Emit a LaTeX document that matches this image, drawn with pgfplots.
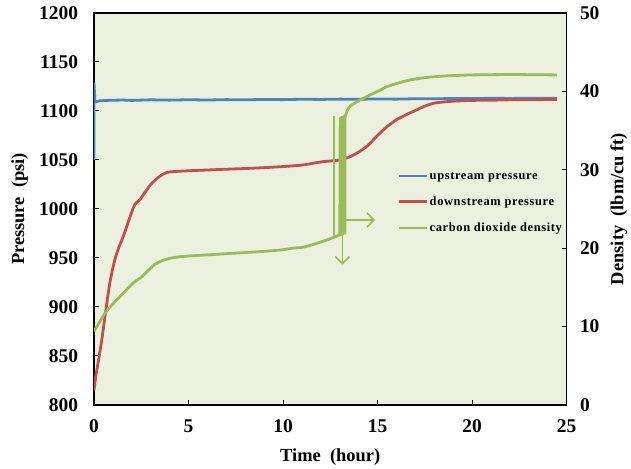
\documentclass[border=0pt]{standalone}
\usepackage{fontspec}
\setmainfont{Liberation Serif}
\newfontfamily\legfont[LetterSpace=5]{Liberation Serif}
\usepackage{pgfplots}
\pgfplotsset{compat=1.18}
\usetikzlibrary{arrows.meta}
\definecolor{bgc}{HTML}{EBF1DE}
\definecolor{upblue}{HTML}{4F81BD}
\definecolor{downred}{HTML}{C0504D}
\definecolor{co2green}{HTML}{9BBB59}

\pgfplotsset{
  base/.style={
    scale only axis, width=472.5bp, height=392bp,
    at={(0,0)}, anchor=south west,
    xmin=0, xmax=25,
    tick align=inside, major tick length=5bp,
    tick style={black, line width=1bp},
    axis line style={black, line width=1.3bp},
    tick label style={font=\fontsize{19.5}{22}\selectfont\bfseries},
    /pgf/number format/assume math mode=true,
    /pgf/number format/1000 sep={},
    label style={font=\fontsize{18.5}{22}\selectfont\bfseries},
  },
}

\begin{document}
\begin{tikzpicture}
% pressure axis
\begin{axis}[base,
  axis background/.style={fill=bgc},
  xtick={0,5,...,25}, xtick pos=bottom,
  xticklabel style={yshift=-11.5bp},
  ymin=800, ymax=1200, ytick={800,850,...,1200}, ytick pos=left,
  yticklabel style={xshift=-12.5bp},
  xlabel={Time~~(hour)},
  xlabel style={at={(axis description cs:0.5,-0.133)}, anchor=center},
  ylabel={Pressure~~(psi)},
  ylabel style={at={(axis description cs:-0.157,0.5)}, anchor=center},
]
% upstream pressure
\addplot[upblue, line width=2.8bp] coordinates {
 (0,1050) (0,1129) (0.05,1109) (0.3,1110.4) (0.8,1110.9) (1.5,1111.2)
 (2,1110.8) (3,1111.4) (4,1111.1) (5,1111.5) (6,1111.2) (7,1111.6)
 (8,1111.4) (9,1111.8) (10,1111.6) (11,1112) (12,1111.8) (13,1112.1)
 (14,1112) (15,1112.3) (16,1112.1) (17,1112.5) (18,1112.4) (19,1112.8)
 (20,1112.6) (21,1113) (22,1112.8) (23,1113.1) (24.5,1113)
};
% downstream pressure
\addplot[downred, line width=2.8bp, smooth, tension=0.4] coordinates {
 (0,815) (0.1,830) (0.2,841) (0.3,853) (0.41,866) (0.6,893) (0.85,926)
 (1.1,948) (1.3,960) (1.55,972) (1.8,986) (2,997) (2.17,1005)
 (2.3,1007.5) (2.45,1010) (2.7,1017) (3,1025) (3.3,1030.5) (3.6,1035)
 (3.9,1037.5) (4.3,1038.3) (5,1039) (6,1039.8) (7,1040.6) (8,1041.3)
 (9,1042.2) (10,1043.3) (11,1044.8) (12,1048) (12.5,1049) (13,1050)
 (13.5,1053) (14,1058) (14.5,1065) (15,1075) (15.5,1084) (16,1091)
 (16.5,1096) (17,1100.5) (17.5,1105) (18,1108) (18.5,1109.2) (19,1110)
 (20,1110.8) (21,1111) (22,1111.4) (23,1111.5) (24.5,1111.8)
};
\end{axis}
% density axis
\begin{axis}[base,
  axis x line=none, axis y line*=right,
  ymin=0, ymax=50, ytick={0,10,...,50},
  yticklabel style={xshift=10bp},
  ylabel={Density~~(lbm/cu ft)},
  ylabel style={at={(axis description cs:1.111,0.5)}, anchor=center},
  legend style={at={(rel axis cs:0.642,0.60)}, anchor=north west,
    draw=none, fill=none, font=\fontsize{12.5}{14}\selectfont\legfont\bfseries,
    row sep=12bp, inner sep=0pt},
  legend cell align=left,
  legend image code/.code={\draw[#1, line width=2.2bp, smooth=false] (0bp,0bp) -- (28bp,0bp);},
]
\addlegendimage{upblue}
\addlegendentry{upstream pressure}
\addlegendimage{downred}
\addlegendentry{downstream pressure}
% carbon dioxide density, before the jump
\addplot[co2green, line width=2.8bp, smooth, tension=0.4] coordinates {
 (0,9.4) (0.3,10.6) (0.58,11.7) (0.85,12.5) (1.2,13.4) (1.6,14.4)
 (2,15.4) (2.26,15.9) (2.5,16.3) (2.8,17) (3.2,17.9) (3.6,18.4)
 (4,18.7) (4.5,18.9) (5,19) (6,19.15) (7,19.3) (8,19.45) (9,19.6)
 (10,19.8) (10.5,20) (11,20.1) (11.5,20.4) (12,20.8) (12.5,21.2)
 (12.7,21.4) (13,21.7)
};
\addlegendentry{carbon dioxide density}
% jump and rise after it
\addplot[co2green, line width=2.6bp, line join=round, forget plot] coordinates {
 (13.0,21.7) (13.02,36.6) (13.05,21.7) (13.08,36.7) (13.11,21.8)
 (13.14,36.7) (13.17,21.8) (13.2,36.8) (13.23,21.9) (13.26,36.8)
 (13.28,21.9) (13.29,36.8)
};
\addplot[co2green, line width=2.8bp, smooth, tension=0.4, forget plot] coordinates {
 (13.29,36.8) (13.5,38) (14,38.8) (14.4,39.3) (15,40) (15.5,40.6) (16,41)
 (16.7,41.45) (17.5,41.75) (18.5,41.96) (20,42.1) (22,42.15) (24.5,42.1)
};
% thin spike at 12.7 h
\addplot[co2green, line width=1.6bp, forget plot] coordinates {
 (12.71,21.4) (12.71,36.9)
};
% arrows pointing to the density axis
\addplot[co2green, line width=1.6bp, forget plot,
  -{Straight Barb[length=7bp,width=14bp]}] coordinates {
 (13.29,23.6) (14.87,23.6)
};
\addplot[co2green, line width=1.6bp, forget plot,
  -{Straight Barb[length=7bp,width=14bp]}] coordinates {
 (13.14,21.9) (13.14,17.9)
};
\end{axis}
\pgfresetboundingbox
\path[use as bounding box] (-94bp,-64bp) rectangle (537bp,405bp);
\end{tikzpicture}
\end{document}
